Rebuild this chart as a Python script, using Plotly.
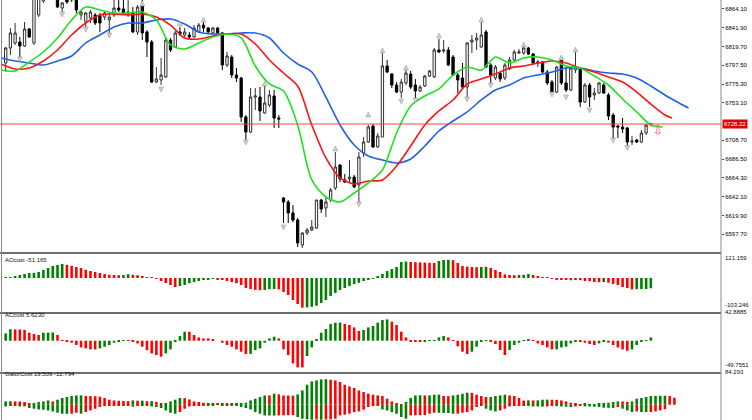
import plotly.graph_objects as go

# --- price bars (x = bar number) ---
opens = [6800.2, 6818.0, 6823.9, 6825.0, 6820.3, 6840.4, 6823.9, 6857.0, 6873.5, 6892.5,
         6879.4, 6878.2, 6865.2, 6886.5, 6874.7, 6879.4, 6857.0, 6848.7, 6853.4, 6857.0,
         6857.0, 6854.6, 6851.1, 6857.0, 6865.2, 6864.1, 6857.0, 6859.3, 6836.9, 6868.8,
         6836.9, 6825.0, 6777.7, 6780.1, 6783.7, 6827.4, 6819.1, 6836.9, 6833.3, 6833.3,
         6831.0, 6836.9, 6845.1, 6841.6, 6835.7, 6841.6, 6835.7, 6797.8, 6807.3, 6786.0,
         6782.5, 6736.4, 6718.6, 6760.0, 6760.0, 6741.1, 6750.5, 6761.2, 6735.2, 6640.6,
         6635.9, 6622.9, 6614.6, 6585.0, 6599.2, 6602.8, 6605.1, 6638.2, 6628.8, 6638.2,
         6652.4, 6679.6, 6661.9, 6663.1, 6665.4, 6656.0, 6693.8, 6706.8, 6725.7, 6700.9,
         6712.7, 6796.7, 6787.2, 6774.2, 6765.9, 6776.6, 6787.2, 6774.2, 6767.1, 6773.0,
         6784.8, 6783.7, 6815.6, 6814.4, 6815.6, 6807.3, 6786.0, 6782.5, 6771.8, 6825.0,
         6827.4, 6819.1, 6836.9, 6797.8, 6782.5, 6788.4, 6782.5, 6793.1, 6803.8, 6812.0,
         6812.0, 6818.0, 6810.9, 6800.2, 6801.4, 6789.6, 6777.7, 6765.9, 6806.1, 6776.6,
         6768.3, 6791.9, 6794.3, 6754.1, 6774.2, 6762.4, 6764.7, 6774.2, 6762.4, 6738.7,
         6725.7, 6724.5, 6723.4, 6706.8, 6709.2, 6706.8, 6717.4, 6726.9]
highs = [6819.1, 6841.6, 6847.5, 6831.0, 6848.7, 6841.6, 6892.5, 6892.5, 6896.0, 6900.7,
         6896.0, 6884.2, 6872.3, 6892.5, 6888.9, 6884.2, 6862.9, 6860.5, 6862.9, 6859.3,
         6859.3, 6860.5, 6859.3, 6874.7, 6874.7, 6874.7, 6874.7, 6866.4, 6868.8, 6878.2,
         6839.2, 6827.4, 6795.5, 6806.1, 6829.8, 6829.8, 6838.0, 6842.8, 6841.6, 6836.9,
         6845.1, 6847.5, 6853.4, 6842.8, 6842.8, 6842.8, 6836.9, 6813.2, 6809.7, 6794.3,
         6783.7, 6738.7, 6770.6, 6770.6, 6771.8, 6773.0, 6768.3, 6768.3, 6738.7, 6641.8,
         6638.2, 6632.3, 6617.0, 6600.4, 6605.1, 6614.6, 6638.2, 6639.4, 6641.8, 6652.4,
         6695.0, 6680.8, 6669.0, 6685.5, 6667.8, 6695.0, 6712.7, 6726.9, 6728.1, 6717.4,
         6812.0, 6803.8, 6788.4, 6777.7, 6781.3, 6791.9, 6790.8, 6781.3, 6774.2, 6786.0,
         6791.9, 6818.0, 6828.6, 6827.4, 6819.1, 6809.7, 6788.4, 6800.2, 6825.0, 6833.3,
         6835.7, 6851.1, 6839.2, 6800.2, 6797.8, 6789.6, 6800.2, 6807.3, 6815.6, 6816.8,
         6819.1, 6819.1, 6812.0, 6803.8, 6802.6, 6791.9, 6780.1, 6796.7, 6808.5, 6795.5,
         6795.5, 6815.6, 6795.5, 6776.6, 6776.6, 6770.6, 6777.7, 6776.6, 6764.7, 6741.1,
         6726.9, 6735.2, 6724.5, 6713.9, 6710.4, 6721.0, 6728.1, 6729.3]
lows = [6789.6, 6809.7, 6821.5, 6807.3, 6819.1, 6829.8, 6821.5, 6854.6, 6871.2, 6877.1,
        6877.1, 6865.2, 6860.5, 6870.0, 6872.3, 6859.3, 6851.1, 6839.2, 6847.5, 6845.1,
        6836.9, 6851.1, 6831.0, 6854.6, 6860.5, 6857.0, 6854.6, 6835.7, 6833.3, 6827.4,
        6807.3, 6776.6, 6776.6, 6774.2, 6782.5, 6813.2, 6818.0, 6832.1, 6831.0, 6829.8,
        6829.8, 6835.7, 6836.9, 6835.7, 6834.5, 6833.3, 6791.9, 6795.5, 6782.5, 6777.7,
        6730.4, 6709.2, 6717.4, 6744.6, 6731.6, 6740.0, 6748.2, 6723.4, 6723.4, 6611.0,
        6611.0, 6612.2, 6582.7, 6581.5, 6596.8, 6601.6, 6603.9, 6622.9, 6618.1, 6635.9,
        6650.1, 6659.5, 6658.4, 6659.5, 6652.4, 6634.7, 6689.1, 6705.6, 6699.7, 6699.7,
        6712.7, 6788.4, 6770.6, 6764.7, 6758.8, 6774.2, 6769.5, 6754.1, 6765.9, 6771.8,
        6783.7, 6782.5, 6812.0, 6812.0, 6796.7, 6784.8, 6764.7, 6770.6, 6756.5, 6812.0,
        6815.6, 6818.0, 6794.3, 6776.6, 6780.1, 6777.7, 6780.1, 6791.9, 6801.4, 6810.9,
        6809.7, 6809.7, 6797.8, 6795.5, 6788.4, 6774.2, 6762.4, 6764.7, 6774.2, 6765.9,
        6767.1, 6788.4, 6748.2, 6752.9, 6748.2, 6756.5, 6763.6, 6763.6, 6732.8, 6711.5,
        6711.5, 6717.4, 6700.9, 6703.3, 6705.6, 6705.6, 6715.1, 6725.7]
closes = [6818.0, 6835.7, 6835.7, 6820.3, 6840.4, 6831.0, 6880.6, 6884.2, 6888.9, 6880.6,
          6891.3, 6866.4, 6871.2, 6872.3, 6884.2, 6862.9, 6860.5, 6859.3, 6860.5, 6847.5,
          6847.5, 6859.3, 6854.6, 6865.2, 6862.9, 6859.3, 6860.5, 6836.9, 6866.4, 6835.7,
          6825.0, 6777.7, 6781.3, 6786.0, 6827.4, 6815.6, 6835.7, 6834.5, 6836.9, 6831.0,
          6841.6, 6845.1, 6841.6, 6836.9, 6841.6, 6835.7, 6797.8, 6808.5, 6786.0, 6782.5,
          6736.4, 6718.6, 6760.0, 6761.2, 6743.5, 6752.9, 6762.4, 6735.2, 6734.0, 6635.9,
          6622.9, 6614.6, 6587.4, 6599.2, 6602.8, 6606.3, 6638.2, 6627.6, 6635.9, 6650.1,
          6677.3, 6663.1, 6659.5, 6665.4, 6653.6, 6689.1, 6706.8, 6724.5, 6700.9, 6713.9,
          6796.7, 6789.6, 6774.2, 6765.9, 6777.7, 6788.4, 6771.8, 6767.1, 6771.8, 6784.8,
          6790.8, 6815.6, 6813.2, 6815.6, 6797.8, 6786.0, 6780.1, 6771.8, 6823.9, 6827.4,
          6829.8, 6833.3, 6795.5, 6786.0, 6795.5, 6781.3, 6797.8, 6803.8, 6813.2, 6813.2,
          6818.0, 6810.9, 6800.2, 6801.4, 6789.6, 6776.6, 6764.7, 6795.5, 6776.6, 6768.3,
          6794.3, 6795.5, 6754.1, 6774.2, 6760.0, 6764.7, 6776.6, 6764.7, 6737.5, 6724.5,
          6724.5, 6722.2, 6706.8, 6708.0, 6706.8, 6717.4, 6726.9, 6728.2]
bars = list(range(len(closes)))

# --- alligator lines, read every 3 bars (already shifted forward) ---
lips_x = list(range(-1, 138, 3)) + [139.5]
lips = [6791.9, 6790.8, 6801.4, 6813.2, 6829.8, 6851.1, 6866.4, 6862.9, 6859.3, 6859.3,
        6860.5, 6851.1, 6821.5, 6816.8, 6823.9, 6831.0, 6834.5, 6829.8, 6796.7, 6775.4,
        6767.1, 6726.9, 6661.9, 6641.8, 6635.9, 6646.5, 6658.4, 6673.7, 6717.4, 6749.4,
        6761.2, 6769.5, 6786.0, 6795.5, 6791.9, 6807.3, 6800.2, 6806.1, 6807.3, 6803.8,
        6796.7, 6794.3, 6784.8, 6774.2, 6757.6, 6742.3, 6726.9, 6724.5]
teeth_x = list(range(-1, 141, 3)) + [141.5]
teeth = [6799.0, 6793.1, 6794.3, 6802.6, 6815.6, 6833.3, 6847.5, 6857.0, 6858.1, 6857.0,
         6858.1, 6854.6, 6845.1, 6829.8, 6828.6, 6832.1, 6834.5, 6834.5, 6822.7, 6803.8,
         6788.4, 6773.0, 6726.9, 6687.9, 6664.3, 6657.2, 6660.7, 6661.9, 6678.4, 6702.1,
         6726.9, 6743.5, 6756.5, 6775.4, 6781.3, 6787.2, 6794.3, 6796.7, 6800.2, 6802.6,
         6800.2, 6794.3, 6789.6, 6783.7, 6777.7, 6765.9, 6751.7, 6738.7, 6735.2]
jaw_x = list(range(-1, 144, 3)) + [145]
jaw = [6806.1, 6802.6, 6800.2, 6797.8, 6802.6, 6808.5, 6823.9, 6833.3, 6842.8, 6847.5,
       6847.5, 6851.1, 6852.2, 6846.3, 6836.9, 6834.5, 6834.5, 6835.7, 6835.7, 6829.8,
       6812.0, 6799.0, 6789.6, 6760.0, 6726.9, 6703.3, 6690.3, 6685.5, 6682.0, 6686.7,
       6702.1, 6719.8, 6731.6, 6742.3, 6756.5, 6768.3, 6774.2, 6782.5, 6786.0, 6789.6,
       6794.3, 6794.3, 6790.8, 6788.4, 6787.2, 6782.5, 6773.0, 6762.4, 6752.9, 6747.0]

# --- fractals and signal ---
frac_up_x = [29, 37, 42, 55, 70, 77, 80, 85, 92, 101, 110, 118, 121]
frac_up = [6873.5, 6849.9, 6854.6, 6778.9, 6702.1, 6742.3, 6818.0, 6797.8, 6835.7,
           6854.6, 6825.0, 6809.7, 6819.1]
frac_dn_x = [3, 12, 17, 22, 33, 51, 59, 75, 84, 87, 98, 103, 116, 119, 124, 129, 132]
frac_dn = [6801.4, 6854.6, 6836.9, 6829.8, 6765.9, 6703.3, 6602.8, 6630.0, 6751.7,
           6752.9, 6754.1, 6770.6, 6760.0, 6756.5, 6741.1, 6705.6, 6696.8]
signal_x = [138.5]
signal_y = [6718.6]
bid = 6728.1
bid_text = "6728.22"

price_ticks = [6864.1, 6841.9, 6819.7, 6797.5, 6775.3, 6753.1,
               6708.7, 6686.5, 6664.3, 6642.1, 6619.9, 6597.7]

# --- oscillators ---
ao = [2.5, 5, 10, 15, 20, 25, 25.5, 30, 40, 50,
      60, 65, 70, 66, 61, 55, 50, 41, 35, 30,
      25, 20, 16, 15, 14, 15, 19, 16, 14, 10,
      5, 1.5, -5, -15, -25, -35, -45, -40, -35, -26,
      -20, -15, -10, -6, -5, -6.5, -10, -15, -20, -26,
      -35, -50, -55, -59, -61, -60, -56, -55, -57, -70,
      -85, -110, -130, -148, -147, -144, -139, -125, -110, -90,
      -75, -60, -50, -40, -30, -24, -15, -10, -5, 10,
      20, 35, 45, 55, 80, 82, 80, 79, 78, 77,
      76, 75, 85, 90, 91, 89, 75, 60, 57, 55,
      54, 55, 56, 50, 40, 30, 18, 15, 14, 15,
      16, 20, 15, 10, 5, 2, -5, -7, -8, -10,
      -11, -8, -10, -15, -16, -20, -21, -20, -23, -30,
      -35, -45, -50, -57, -56, -55.5, -55, -51.2]
ac = [12.4, 19.5, 19.2, 19.0, 18.2, 13.6, 11.4, 9.7, 13.6, 13.8,
      14.0, 9.7, 1.2, -1.2, -3.4, -7.3, -11.4, -13.1, -14.8, -14.9,
      -13.1, -10.2, -7.3, -3.4, -1.2, 1.2, 0.5, -1.7, -4.6, -10.2,
      -15.8, -21.6, -24.3, -27.2, -21.6, -14.8, -1.7, 8.0, 15.3, 15.2,
      9.7, 5.6, 4.0, 3.9, 2.2, 0.0, -3.4, -7.3, -10.2, -14.8,
      -18.7, -22.6, -22.4, -15.8, -13.1, -3.4, 3.9, 6.8, 3.9, -14.8,
      -24.3, -38.6, -45.4, -45.5, -26.0, -11.4, 2.2, 13.6, 19.9, 28.4,
      30.6, 30.7, 28.4, 26.7, 22.6, 16.5, 18.2, 22.6, 25.0, 30.6,
      35.2, 36.2, 32.3, 26.7, 15.3, 5.6, -1.7, -2.2, -2.3, -1.2,
      -0.5, 1.2, 5.6, 8.0, 5.6, 1.2, -9.5, -18.7, -22.6, -18.7,
      -10.2, -1.5, 1.2, -1.7, -5.6, -15.8, -24.3, -15.8, -7.3, -3.4,
      -0.3, 2.2, 0.3, -4.6, -7.3, -11.4, -14.8, -14.7, -11.4, -10.2,
      -4.6, -1.2, -1.3, -3.4, -5.6, -7.3, -4.6, -2.2, -3.4, -7.3,
      -11.4, -14.8, -17.0, -14.8, -7.3, -1.7, 1.2, 5.6]
gator_up = [9.2, 9.5, 9.2, 9.0, 7.6, 2.8, 4.8, 7.6, 9.2, 12.0,
            9.2, 14.0, 18.8, 21.6, 24.4, 26.0, 26.3, 24.4, 24.1, 23.8,
            22.4, 18.8, 14.0, 12.0, 11.2, 10.4, 10.1, 12.0, 11.2, 11.5,
            9.8, 10.1, 7.6, 4.8, 5.0, 9.2, 14.0, 18.8, 18.5, 14.8,
            9.2, 7.6, 5.6, 5.3, 3.6, 2.8, 2.5, 2.8, 2.5, 2.2,
            2.8, 5.6, 12.0, 16.8, 21.6, 26.0, 25.8, 30.8, 28.8, 26.0,
            25.8, 25.5, 28.8, 40.0, 56.0, 65.2, 68.0, 70.8, 71.4, 70.0,
            68.0, 63.6, 56.0, 51.2, 46.8, 40.0, 35.6, 30.8, 28.0, 26.0,
            24.4, 16.8, 9.2, 2.8, 0.8, 7.6, 18.8, 26.0, 26.3, 26.0,
            26.3, 28.0, 28.3, 24.4, 24.1, 26.0, 28.0, 30.8, 33.6, 33.3,
            28.0, 24.4, 21.6, 21.8, 24.4, 26.0, 28.0, 26.0, 24.4, 18.8,
            11.8, 12.3, 12.0, 12.3, 14.0, 14.3, 14.0, 13.7, 12.0, 9.2,
            5.6, 2.8, 2.0, 2.2, 0.8, 1.7, 2.8, 3.1, 5.6, 7.6,
            9.2, 9.0, 7.6, 9.2, 16.8, 18.8, 21.6, 24.4, 24.6, 24.9,
            25.2, 24.4, 19.5]
gator_dn = [-4.8, -3.6, -2.0, -4.8, -4.7, -9.2, -11.2, -13.2, -14.0, -16.0,
            -18.8, -22.4, -25.2, -25.5, -25.2, -22.4, -25.2, -20.4, -16.0, -11.2,
            -6.4, -3.6, -3.6, -3.4, -3.3, -3.1, -3.0, -5.6, -3.6, -3.9,
            -3.6, -4.8, -6.4, -9.2, -16.0, -22.4, -25.2, -20.4, -11.2, -4.8,
            -2.0, -1.7, -1.4, -2.0, -2.2, -0.8, -2.0, -1.7, -2.0, -3.6,
            -6.4, -9.2, -13.2, -20.4, -25.2, -30.0, -30.2, -30.5, -30.0, -29.7,
            -29.4, -29.1, -34.4, -39.2, -40.6, -42.0, -41.4, -42.0, -41.4, -40.9,
            -39.2, -30.0, -28.0, -25.2, -20.4, -18.8, -14.0, -6.4, -3.6, -3.4,
            -13.2, -16.0, -20.4, -25.2, -34.4, -39.2, -30.0, -29.7, -29.4, -29.1,
            -25.2, -22.4, -22.7, -23.0, -23.2, -25.2, -24.9, -22.4, -20.4, -16.0,
            -6.4, -3.6, -11.2, -16.0, -18.8, -16.0, -11.2, -4.8, -3.6, -2.0,
            -1.7, -3.6, -4.8, -5.0, -5.3, -4.8, -3.6, -3.9, -4.8, -5.6,
            -6.4, -4.8, -3.6, -4.8, -5.0, -5.6, -6.4, -8.4, -8.7, -9.0,
            -6.4, -11.2, -16.0, -20.4, -18.8, -20.4, -20.7, -20.4, -18.8, -16.0,
            -12.8]

GREEN = "#008000"
RED = "#ff0000"
FONT = "Liberation Sans"


def rising(vals):
    # AO / AC colouring: green when the value went up
    return [GREEN if i == 0 or v > vals[i - 1] else RED for i, v in enumerate(vals)]


def growing(vals):
    # Gator colouring: green when the bar got longer
    return [GREEN if i == 0 or abs(v) > abs(vals[i - 1]) else RED for i, v in enumerate(vals)]


W, H = 752, 420
PLOT_R = 721  # px where the price scale sits


def px_x(px):
    return px / W


def py(px):
    return 1 - px / H


fig = go.Figure()

fig.add_trace(go.Candlestick(
    x=bars, open=opens, high=highs, low=lows, close=closes,
    increasing=dict(line=dict(color="#303030", width=1), fillcolor="white"),
    decreasing=dict(line=dict(color="black", width=1), fillcolor="black"),
    whiskerwidth=0, xaxis="x", yaxis="y", hoverinfo="skip"))

for xs, ys, col in [(jaw_x, jaw, "#2062e6"), (teeth_x, teeth, "#ff1414"), (lips_x, lips, "#1ee01e")]:
    fig.add_trace(go.Scatter(x=xs, y=ys, mode="lines",
                             line=dict(color=col, width=1.6, shape="spline", smoothing=0.8),
                             xaxis="x", yaxis="y", hoverinfo="skip"))

fig.add_trace(go.Scatter(x=frac_up_x, y=frac_up, mode="markers", xaxis="x", yaxis="y",
                         marker=dict(symbol="arrow-up", size=5, color="#cdcdcd",
                                     line=dict(color="#9a9a9a", width=0.5))))
fig.add_trace(go.Scatter(x=frac_dn_x, y=frac_dn, mode="markers", xaxis="x", yaxis="y",
                         marker=dict(symbol="arrow-down", size=5, color="#cdcdcd",
                                     line=dict(color="#9a9a9a", width=0.5))))
fig.add_trace(go.Scatter(x=signal_x, y=signal_y, mode="text", text=["\u21e9"], xaxis="x", yaxis="y",
                         textfont=dict(family="DejaVu Sans", size=13, color="#ff5a5a")))

fig.add_trace(go.Bar(x=bars, y=ao, marker=dict(color=rising(ao), line=dict(width=0)), width=0.55,
                     xaxis="x2", yaxis="y2"))
fig.add_trace(go.Bar(x=bars, y=ac, marker=dict(color=rising(ac), line=dict(width=0)), width=0.55,
                     xaxis="x3", yaxis="y3"))
fig.add_trace(go.Bar(x=list(range(len(gator_up))), y=gator_up,
                     marker=dict(color=growing(gator_up), line=dict(width=0)),
                     width=0.55, xaxis="x4", yaxis="y4"))
fig.add_trace(go.Bar(x=list(range(len(gator_dn))), y=gator_dn,
                     marker=dict(color=growing(gator_dn), line=dict(width=0)),
                     width=0.55, xaxis="x4", yaxis="y4"))

# no margins, so "paper" units are plain fractions of the 752x420 picture
xdom = [0, px_x(PLOT_R)]
xrange = [-1.21, 151.9]
hidden_x = dict(domain=xdom, range=xrange, showticklabels=False, showgrid=False, zeroline=False,
                ticks="", showline=False, fixedrange=True, automargin=False)
hidden_y = dict(showticklabels=False, showgrid=False, zeroline=False, ticks="", automargin=False)

fig.update_layout(
    width=W, height=H, margin=dict(l=0, r=0, t=0, b=0, autoexpand=False),
    paper_bgcolor="white", plot_bgcolor="white", showlegend=False, barmode="overlay",
    font=dict(family=FONT, size=6, color="black"),
    xaxis=dict(hidden_x, anchor="y", rangeslider=dict(visible=False)),
    xaxis2=dict(hidden_x, anchor="y2", matches="x"),
    xaxis3=dict(hidden_x, anchor="y3", matches="x"),
    xaxis4=dict(hidden_x, anchor="y4", matches="x"),
    yaxis=dict(domain=[py(252), 1], range=[6874.7 - 1.1824 * 252, 6874.7], side="right", anchor="x",
               tickvals=price_ticks, ticktext=["%.2f" % t for t in price_ticks],
               ticks="outside", ticklen=2, tickcolor="#444", tickfont=dict(family=FONT, size=6),
               showgrid=False, zeroline=False, showline=False, automargin=False),
    yaxis2=dict(hidden_y, domain=[py(312), py(254)], range=[-170, 120], anchor="x2"),
    yaxis3=dict(hidden_y, domain=[py(372), py(314)], range=[-53.2, 45.4], anchor="x3"),
    yaxis4=dict(hidden_y, domain=[0, py(374)], range=[-42.8, 86.0], anchor="x4"),
)

# current bid line
fig.add_shape(type="line", xref="paper", yref="y", x0=0, x1=px_x(PLOT_R), y0=bid, y1=bid,
              line=dict(color="#ff4040", width=1))
# panel separators, price scale line, left border
for ypx in [253, 313, 373]:
    fig.add_shape(type="line", xref="paper", yref="paper", x0=0, x1=px_x(PLOT_R), y0=py(ypx), y1=py(ypx),
                  line=dict(color="#6e6e6e", width=2))
fig.add_shape(type="line", xref="paper", yref="paper", x0=px_x(PLOT_R), x1=px_x(PLOT_R), y0=0, y1=1,
              line=dict(color="#8a8a8a", width=1))
fig.add_shape(type="line", xref="paper", yref="paper", x0=px_x(1.5), x1=px_x(1.5), y0=0, y1=1,
              line=dict(color="#8a8a8a", width=1))

fig.add_annotation(x=px_x(PLOT_R + 1), xref="paper", xanchor="left", y=bid, yref="y", text=bid_text,
                   showarrow=False, bgcolor="#e00000", font=dict(color="white", size=6, family=FONT),
                   borderpad=1)

for txt, ypx in [("AOcust -51.165", 260), ("ACcust 5.6230", 320), ("GatorCust 19.509 -12.794", 379)]:
    fig.add_annotation(x=px_x(3), xref="paper", xanchor="left", y=py(ypx), yref="paper", text=txt,
                       showarrow=False, font=dict(size=6, family=FONT, color="#111"))

for txt, ypx in [("121.159", 257.7), ("-103.246", 310), ("42.8885", 316.7), ("-49.7551", 370),
                 ("84.293", 377.3)]:
    fig.add_annotation(x=px_x(PLOT_R + 2), xref="paper", xanchor="left", y=py(ypx), yref="paper",
                       text=txt, showarrow=False, font=dict(size=6, family=FONT, color="#111"))

fig.write_html("out.html", config={"displayModeBar": False},
               post_script="document.body.style.margin='0';document.body.style.overflow='hidden';")
